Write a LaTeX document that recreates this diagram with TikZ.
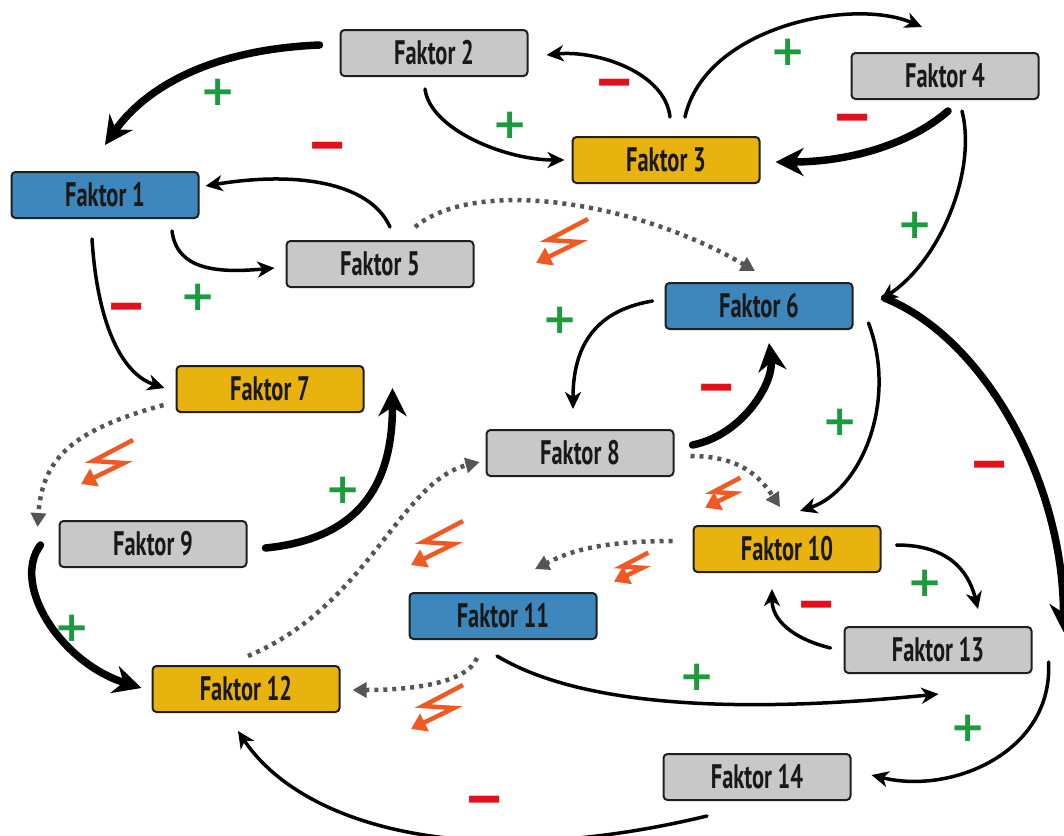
\documentclass[tikz,border=0pt]{standalone}
\usepackage{fontspec}
\newfontfamily\fkfont{PT Sans}[FakeStretch=0.66]
\newfontfamily\symfont{DejaVu Sans}
\usetikzlibrary{arrows.meta}
\definecolor{fblue}{HTML}{3D87BD}
\definecolor{fyellow}{HTML}{E8B30E}
\definecolor{fgray}{HTML}{C8C8C8}
\definecolor{pluscol}{HTML}{1C9A3E}
\definecolor{minuscol}{HTML}{E3101C}
\definecolor{boltcol}{HTML}{F05A22}
\definecolor{dotcol}{HTML}{555555}
\tikzset{
  fbox/.style={draw=black!88, line width=2pt, rounded corners=4pt,
    minimum width=187pt, minimum height=46pt, inner sep=0pt,
    text=black!90, font=\fkfont\bfseries\fontsize{34}{35}\selectfont},
  thin/.style={draw=black, line width=3.5pt, line cap=round,
    -{Stealth[length=17pt,width=16pt,inset=5pt]}},
  thick/.style={draw=black, line width=7.5pt, line cap=round,
    -{Stealth[length=28pt,width=28pt,inset=9pt]}},
  dots/.style={draw=dotcol, line width=4.5pt, dash pattern=on 4pt off 5pt,
    -{Triangle[length=14pt,width=15pt]}},
  plus/.style={text=pluscol, font=\symfont\bfseries\fontsize{42}{42}\selectfont, inner sep=0pt},
  minus/.style={text=minuscol, font=\symfont\bfseries\fontsize{40}{40}\selectfont, inner sep=0pt, xscale=1.2, yscale=1.5},
  bolt/.pic={\draw[boltcol, line width=4.5pt, line join=miter,
      -{Triangle[length=15pt,width=19pt]}]
      (55,-46) -- (15,-25) -- (46,-23) -- (3,-2);}
}
\begin{document}
\begin{tikzpicture}[x=1pt,y=-1pt]
\useasboundingbox[fill=white] (0,0) rectangle (1064,835);

% nodes
\node[fbox, fill=fblue]   (f1)  at (105,195) {Faktor 1};
\node[fbox, fill=fgray]   (f2)  at (434,53)  {Faktor 2};
\node[fbox, fill=fyellow] (f3)  at (666,160) {Faktor 3};
\node[fbox, fill=fgray]   (f4)  at (945,76)  {Faktor 4};
\node[fbox, fill=fgray]   (f5)  at (380,264) {Faktor 5};
\node[fbox, fill=fblue]   (f6)  at (759,306) {Faktor 6};
\node[fbox, fill=fyellow] (f7)  at (270,389) {Faktor 7};
\node[fbox, fill=fgray]   (f8)  at (580,453) {Faktor 8};
\node[fbox, fill=fgray]   (f9)  at (153,544) {Faktor 9};
\node[fbox, fill=fyellow] (f10) at (787,549) {Faktor 10};
\node[fbox, fill=fblue]   (f11) at (503,616) {Faktor 11};
\node[fbox, fill=fyellow] (f12) at (246,689) {Faktor 12};
\node[fbox, fill=fgray]   (f13) at (938,650) {Faktor 13};
\node[fbox, fill=fgray]   (f14) at (757,777) {Faktor 14};

% solid connectors
\draw[thick] ([shift={(-20,-8)}]f2.west) .. controls +(-120,5) and +(35,-50) .. ([shift={(0,-26)}]f1.north);
\draw[thin] ([shift={(4,-19)}]f3.north) .. controls +(-5,-45) and +(50,-5) .. ([shift={(18,2)}]f2.east);
\draw[thin] ([shift={(-9,12)}]f2.south) .. controls +(5,40) and +(-60,0) .. ([shift={(-7,0)}]f3.west);
\draw[thin] ([shift={(19,-19)}]f3.north) .. controls +(20,-90) and +(-70,-30) .. ([shift={(-23,-25)}]f4.north);
\draw[thick] ([shift={(3,11)}]f4.south) .. controls +(-40,35) and +(70,0) .. ([shift={(15,2)}]f3.east);
\draw[thin] ([shift={(17,11)}]f4.south) .. controls +(15,60) and +(60,-40) .. ([shift={(27,-6)}]f6.east);
\draw[thin] ([shift={(10,-13)}]f5.north) .. controls +(-20,-45) and +(90,-15) .. ([shift={(6,-9)}]f1.east);
\draw[thin] ([shift={(67,12)}]f1.south) .. controls +(5,40) and +(-55,5) .. ([shift={(-11,4)}]f5.west);
\draw[thin] ([shift={(-13,20)}]f1.south) .. controls +(5,80) and +(-45,-15) .. ([shift={(-11,-1)}]f7.west);
\draw[thin] ([shift={(-12,-5)}]f6.west) .. controls +(-60,10) and +(0,-60) .. ([shift={(-7,-20)}]f8.north);
\draw[thick] ([shift={(18,-8)}]f8.east) .. controls +(50,-10) and +(5,40) .. ([shift={(10,13)}]f6.south);
\draw[thin] ([shift={(15,-7)}]f6.south east) .. controls +(30,80) and +(60,-20) .. ([shift={(13,-14)}]f10.north);
\draw[thick] ([shift={(31,-8)}]f6.east) .. controls +(100,40) and +(0,-150) .. ([shift={(31,6)}]f13.north east);
\draw[thick] ([shift={(18,4)}]f9.east) .. controls +(100,-10) and +(0,90) .. ([shift={(28,-1)}]f7.east);
\draw[thick] ([shift={(-18,1)}]f9.west) .. controls +(-30,40) and +(-80,-25) .. ([shift={(-10,-1)}]f12.west);
\draw[thin] ([shift={(15,-4)}]f10.east) .. controls +(50,0) and +(-10,-40) .. ([shift={(40,-17)}]f13.north);
\draw[thin] ([shift={(-13,-2)}]f13.west) .. controls +(-40,-10) and +(0,30) .. ([shift={(-15,16)}]f10.south);
\draw[thin] ([shift={(-6,16)}]f11.south) .. controls +(100,60) and +(-150,15) .. ([shift={(95,20)}]f13.south west);
\draw[thin] ([shift={(16,12)}]f13.east) .. controls +(5,90) and +(80,20) .. ([shift={(20,-2)}]f14.east);
\draw[thin] ([shift={(-50,15)}]f14.south) .. controls +(-250,60) and +(60,90) .. ([shift={(-8,18)}]f12.south);

% dotted connectors
\draw[dots] ([shift={(35,-13)}]f5.north) .. controls +(60,-50) and +(-120,-70) .. ([shift={(-4,-11)}]f6.north);
\draw[dots] ([shift={(-12,-8)}]f7.south west) .. controls +(-90,25) and +(5,-70) .. ([shift={(-21,-17)}]f9.west);
\draw[dots] ([shift={(2,-9)}]f12.north) .. controls +(120,-50) and +(-80,20) .. ([shift={(-6,9)}]f8.west);
\draw[dots] ([shift={(16,3)}]f8.east) .. controls +(50,0) and +(-20,-30) .. ([shift={(-7,-18)}]f10.north);
\draw[dots] ([shift={(-20,-8)}]f10.west) .. controls +(-80,0) and +(30,-15) .. ([shift={(32,-23)}]f11.north);
\draw[dots] ([shift={(-26,18)}]f11.south) .. controls +(-10,25) and +(60,0) .. ([shift={(12,1)}]f12.east);

% lightning marks
\pic at (533,265) {bolt};
\pic at (78,486) {bolt};
\pic at (408,567) {bolt};
\pic[scale=0.68] at (703,509) {bolt};
\pic[scale=0.66] at (612,583) {bolt};
\pic at (408,731) {bolt};

% plus labels
\node[plus] (p1) at (218,92) {+};
\node[plus] (p2) at (510,125) {+};
\node[plus] (p3) at (788,52) {+};
\node[plus] (p4) at (915,225) {+};
\node[plus] (p5) at (198,297) {+};
\node[plus] (p6) at (560,320) {+};
\node[plus] (p7) at (840,422) {+};
\node[plus] (p8) at (343,490) {+};
\node[plus] (p9) at (72,628) {+};
\node[plus] (p10) at (925,583) {+};
\node[plus] (p11) at (697,677) {+};
\node[plus] (p12) at (968,728) {+};

% minus labels
\node[minus] (m1) at (615,90) {−};
\node[minus] (m2) at (328,153) {−};
\node[minus] (m3) at (853,125) {−};
\node[minus] (m4) at (127,314) {−};
\node[minus] (m5) at (717,395) {−};
\node[minus] (m6) at (990,472) {−};
\node[minus] (m7) at (817,612) {−};
\node[minus] (m8) at (485,807) {−};
\end{tikzpicture}
\end{document}
